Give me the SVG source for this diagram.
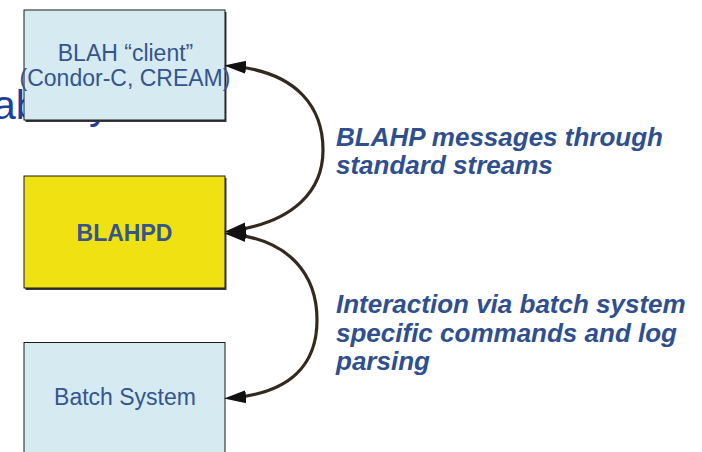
<svg xmlns="http://www.w3.org/2000/svg" width="702" height="452" viewBox="0 0 702 452">
  <style>
    .box { stroke: #1a1a1a; stroke-width: 1; }
    .shadow { fill: #3a3a3a; }
    .btxt { font-family: "Liberation Sans", Arial, sans-serif; font-size: 23px; fill: #34558f; text-anchor: middle; }
    .lbl { font-family: "Liberation Sans", Arial, sans-serif; font-size: 26px; font-weight: bold; font-style: italic; fill: #2f4f8f; }
    .conn { fill: none; stroke: #33291d; stroke-width: 3.2; }
    .bg { font-family: "Liberation Sans", Arial, sans-serif; font-size: 41px; fill: #1d3f9c; }
  </style>
  <defs>
    <marker id="arrow" markerUnits="userSpaceOnUse" markerWidth="24" markerHeight="15" refX="15" refY="7" orient="auto-start-reverse" viewBox="0 0 24 15">
      <path d="M0,0.5 L22,7 L0,13.5 z" fill="#111"/>
    </marker>
  </defs>
  <rect width="702" height="452" fill="#ffffff"/>
  <text class="bg" x="-7" y="119">ab<tspan x="89">y</tspan></text>

  <g id="blah-client">
    <rect class="shadow" x="25.5" y="12" width="201" height="110"/>
    <rect class="box" x="24" y="10" width="201" height="110" fill="#d5eaf1"/>
    <text class="btxt" x="125.5" y="61">BLAH “client”</text>
    <text class="btxt" x="125" y="86">(Condor-C, CREAM)</text>
  </g>

  <g id="blahpd">
    <rect class="shadow" x="25.5" y="178" width="201" height="112"/>
    <rect class="box" x="24" y="176" width="201" height="112" fill="#f0e112"/>
    <text class="btxt" x="124.5" y="241" font-weight="bold" fill="#2f5597">BLAHPD</text>
  </g>

  <g id="batch-system">
    <rect class="box" x="24" y="342.5" width="201" height="120" fill="#d5eaf1"/>
    <text class="btxt" x="125" y="405">Batch System</text>
  </g>

  <g id="connectors">
    <path class="conn" d="M 231 66 C 300 72, 323 110, 323 150 C 323 190, 295 222, 231 231" marker-start="url(#arrow)" marker-end="url(#arrow)"/>
    <path class="conn" d="M 231 234 C 290 240, 317 275, 317 320 C 317 365, 290 393, 231 398" marker-start="url(#arrow)" marker-end="url(#arrow)"/>
  </g>

  <g id="labels">
    <text class="lbl" x="336" y="146">BLAHP messages through</text>
    <text class="lbl" x="336" y="174">standard streams</text>
    <text class="lbl" x="336" y="313">Interaction via batch system</text>
    <text class="lbl" x="336" y="341.5">specific commands and log</text>
    <text class="lbl" x="336" y="370">parsing</text>
  </g>
</svg>
